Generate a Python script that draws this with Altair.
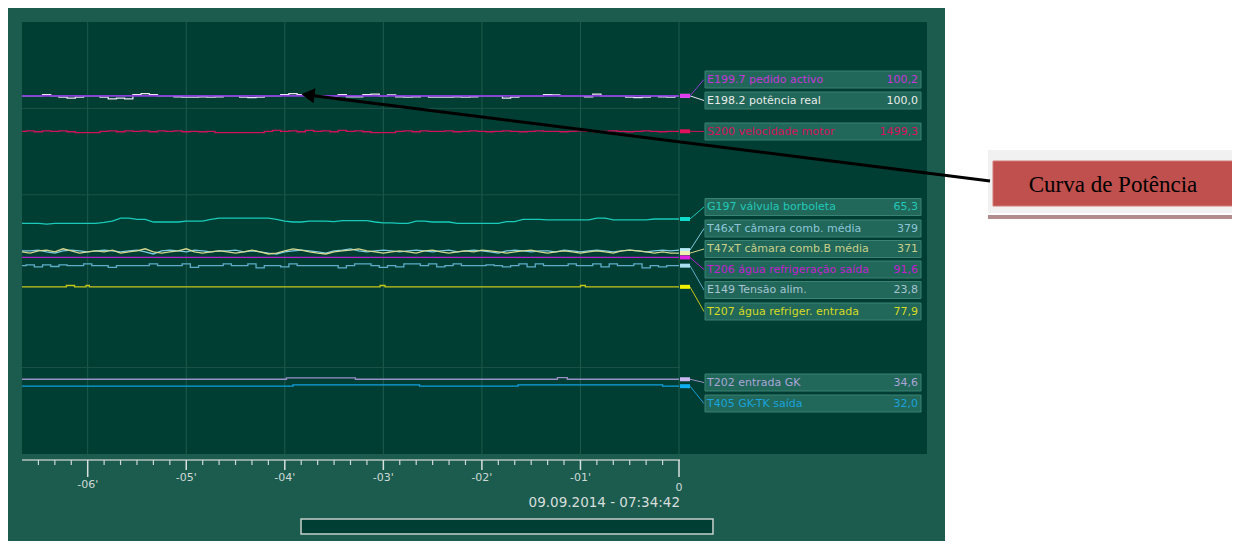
import altair as alt
import pandas as pd

# ---------------- data (time in seconds before 07:34:42, values in % of display height) -------------
T5 = list(range(-400, 1, 5))

E1982_V = [82.9, 82.9, 82.9, 83.2, 82.9, 82.6, 82.4, 82.6, 82.9, 82.9,
           82.6, 82.2, 82.4, 82.2, 83.2, 83.4, 83.2, 82.9, 82.9, 82.7,
           82.6, 82.6, 82.7, 82.6, 82.7, 82.9, 82.9, 82.6, 82.5, 82.6,
           82.9, 82.9, 83.2, 83.4, 83.2, 82.9, 82.9, 82.9, 82.9, 83.2,
           82.7, 82.7, 83.2, 83.3, 82.9, 83.1, 82.7, 82.6, 82.7, 82.9,
           82.6, 82.6, 82.6, 82.7, 82.6, 82.7, 82.9, 82.9, 82.9, 82.4,
           82.6, 82.9, 82.9, 82.9, 83.2, 83.1, 82.9, 82.9, 82.9, 82.7,
           83.3, 82.9, 82.9, 82.9, 82.6, 82.5, 82.6, 82.9, 82.7, 82.6,
           82.9]

S200_V = [74.7, 74.8, 74.6, 74.8, 74.7, 74.8, 74.6, 74.4, 74.4, 74.4,
          74.7, 74.8, 74.6, 74.8, 74.7, 74.8, 74.6, 74.8, 74.7, 74.8,
          74.6, 74.7, 74.6, 74.7, 74.4, 74.4, 74.4, 74.4, 74.4, 74.4,
          74.7, 74.9, 74.7, 74.8, 74.6, 74.9, 74.7, 74.8, 74.6, 74.9,
          74.7, 74.8, 74.6, 74.4, 74.4, 74.4, 74.7, 74.8, 74.6, 74.8,
          74.7, 74.7, 74.8, 74.6, 74.7, 74.8, 74.7, 74.6, 74.7, 74.8,
          74.7, 74.6, 74.7, 74.8, 74.7, 74.7, 74.6, 74.7, 74.8, 74.7,
          74.6, 74.7, 74.8, 74.7, 74.6, 74.7, 74.8, 74.7, 74.6, 74.7,
          74.7]

G197_V = [53.4, 53.4, 53.4, 53.2, 53.4, 53.4, 53.4, 53.4, 53.4, 53.4,
          53.6, 53.9, 54.6, 54.6, 54.3, 54.3, 53.7, 53.7, 53.7, 53.7,
          53.9, 53.9, 53.9, 54.3, 54.6, 54.6, 54.6, 54.6, 54.6, 54.6,
          54.6, 54.3, 53.9, 53.7, 53.7, 53.9, 53.9, 53.9, 53.8, 54.0,
          54.0, 54.0, 54.0, 53.7, 53.5, 53.5, 53.4, 53.4, 53.9, 53.9,
          53.7, 53.7, 53.7, 53.4, 53.4, 53.4, 53.4, 53.4, 53.4, 53.8,
          53.8, 54.3, 54.3, 54.3, 54.2, 54.2, 54.2, 54.2, 54.2, 54.2,
          54.6, 54.6, 54.2, 54.2, 54.2, 54.2, 54.2, 54.4, 54.4, 54.4,
          54.4]

T46_V = [47.0, 47.0, 47.2, 46.8, 46.5, 47.0, 47.2, 47.0, 46.8, 47.0,
         47.2, 47.0, 46.8, 47.0, 47.2, 46.8, 46.3, 47.0, 47.2, 47.0,
         46.8, 47.2, 47.0, 46.8, 47.0, 47.0, 47.2, 46.8, 47.0, 46.8,
         46.5, 46.3, 46.8, 47.0, 47.2, 47.0, 46.8, 46.5, 47.0, 47.2,
         47.5, 47.0, 46.8, 47.0, 47.2, 47.0, 46.8, 47.0, 47.2, 47.0,
         46.8, 47.0, 47.2, 46.8, 47.0, 47.2, 47.0, 46.8, 46.5, 47.0,
         47.2, 47.0, 46.8, 47.0, 47.0, 46.8, 47.2, 47.0, 46.8, 47.0,
         47.2, 47.0, 46.8, 47.0, 47.2, 47.0, 46.8, 47.0, 47.2, 47.0,
         47.2]

T47_V = [46.8, 46.5, 47.0, 47.2, 46.8, 47.5, 47.0, 46.5, 46.8, 47.0,
         46.8, 47.2, 46.5, 46.8, 47.0, 47.5, 46.8, 46.5, 46.8, 47.0,
         47.5, 46.8, 46.5, 46.8, 47.0, 46.8, 46.5, 46.8, 47.2, 46.8,
         46.3, 46.5, 47.0, 47.5, 47.2, 46.8, 46.5, 46.3, 46.8, 47.0,
         47.2, 47.5, 47.0, 46.8, 46.5, 46.8, 47.0, 46.8, 46.5, 47.0,
         47.2, 46.8, 46.5, 46.8, 47.0, 46.8, 47.2, 47.0, 46.8, 46.5,
         46.8, 47.0, 47.2, 46.8, 46.5, 46.8, 47.0, 46.8, 46.5, 46.8,
         47.0, 46.8, 46.5, 47.0, 47.2, 47.0, 46.8, 46.5, 46.8, 46.5,
         46.5]

E149_V = [43.6, 43.8, 43.3, 43.8, 43.4, 43.8, 43.6, 43.6, 44.0, 43.6,
          43.6, 43.2, 43.6, 43.6, 43.6, 43.6, 44.0, 43.6, 43.6, 43.6,
          44.0, 43.2, 43.6, 43.6, 43.6, 44.0, 43.6, 43.6, 44.0, 43.1,
          43.6, 43.6, 43.3, 44.0, 43.6, 43.6, 43.6, 43.6, 43.6, 43.1,
          43.6, 44.0, 44.0, 43.6, 43.2, 43.6, 43.3, 44.0, 44.0, 43.6,
          44.0, 43.3, 43.6, 44.0, 43.6, 43.6, 43.6, 43.8, 43.6, 43.3,
          43.6, 44.0, 43.3, 44.0, 43.6, 43.6, 43.6, 44.0, 43.6, 43.6,
          44.0, 43.3, 44.0, 43.6, 43.6, 44.0, 43.1, 43.6, 43.3, 43.6,
          43.6]

E1997_T = [-400, 0]
E1997_V = [82.9, 82.9]
T206_T = [-400, 0]
T206_V = [45.5, 45.5]
T207_T = [-400, -373, -368, -361, -359, -182, -179, -60, -57, 0]
T207_V = [38.7, 39.0, 38.7, 39.0, 38.7, 39.0, 38.7, 39.0, 38.7, 38.7]
T202_T = [-400, -239, -197, -74, -68, 0]
T202_V = [17.3, 17.6, 17.3, 17.7, 17.3, 17.3]
T405_T = [-400, -235, -158, -98, -10, 0]
T405_V = [15.7, 16.0, 15.7, 16.0, 15.7, 15.7]

LEG_NAMES = ["E199.7 pedido activo", "E198.2 potência real", "S200 velocidade motor",
             "G197 válvula borboleta", "T46xT câmara comb. média", "T47xT câmara comb.B média",
             "T206 água refrigeração saída", "E149 Tensão alim.", "T207 água refriger. entrada",
             "T202 entrada GK", "T405 GK-TK saída"]
LEG_VALUES = ["100,2", "100,0", "1499,3", "65,3", "379", "371", "91,6", "23,8", "77,9", "34,6", "32,0"]

GRID_T = [-360, -300, -240, -180, -120, -60, 0]
GRID_V = [20, 60, 80]
MINOR_T = [t for t in range(-390, 0, 10) if t % 60 != 0]
MAJOR_T = [-300, -240, -180, -120, -60]
MAJOR_LABELS = ["-05'", "-04'", "-03'", "-02'", "-01'"]
END_T = [-360, 0]
TIMESTAMP = "09.09.2014 - 07:34:42"
ANNOTATION = "Curva de Potência"

# ---------------- styles ----------------
LINE_COLORS = ["#8a3cd8", "#ece4f4", "#d0125a", "#18cbbb", "#7ccbe0", "#d4d88e",
               "#b81ed0", "#5eaecb", "#c6c81a", "#9a90c8", "#12a0de"]
MARK_COLORS = ["#e23cf0", "#ece4f4", "#e0105a", "#10dccc", "#b8ecf8", "#f0f0b0",
               "#e020e0", "#a8e0f0", "#f0f000", "#c8b8f0", "#10b0f0"]
TEXT_COLORS = ["#c437d8", "#e8ece8", "#d3125c", "#22c9b8", "#8cc6d8", "#c8cf8a",
               "#c21fcf", "#a6c4d0", "#d6da22", "#aaa6d8", "#1aa3dc"]
LEG_ROW_Y = [57.5, 78.5, 109.5, 185, 206.5, 227, 247.5, 268, 289.5, 360.5, 381.5]

W, H = 657, 432
XS = alt.Scale(domain=[-400, 0], nice=False, zero=False)
YS = alt.Scale(domain=[0, 100], nice=False, zero=False)
ONE = pd.DataFrame({"k": [0]})
FONT = "DejaVu Sans"


def rect(x, x2, y, y2, **kw):
    return alt.Chart(ONE).mark_rect(**kw).encode(
        x=alt.value(x), x2=alt.value(x2), y=alt.value(y), y2=alt.value(y2))


def line_layer(ts, vs, color, interp="linear", sw=1.3):
    df = pd.DataFrame({"t": ts, "v": vs})
    return alt.Chart(df).mark_line(color=color, strokeWidth=sw, interpolate=interp).encode(
        x=alt.X("t:Q", scale=XS, axis=None), y=alt.Y("v:Q", scale=YS, axis=None))


layers = []
# panel and plot background
layers.append(rect(-14, 923, -14, 519, color="#1b5c4f"))
layers.append(rect(0, 905, 0, H, color="#003d32"))

# grid
layers.append(alt.Chart(pd.DataFrame({"t": GRID_T})).mark_rule(color="#1f5b4d", strokeWidth=1).encode(
    x=alt.X("t:Q", scale=XS, axis=None), y=alt.value(0), y2=alt.value(H)))
layers.append(alt.Chart(pd.DataFrame({"v": GRID_V})).mark_rule(color="#1c5447", strokeWidth=1).encode(
    y=alt.Y("v:Q", scale=YS, axis=None), x=alt.value(0), x2=alt.value(W + 1)))

# series (legend order)
SERIES = [
    (E1997_T, E1997_V, "linear"),
    (T5, E1982_V, "step"),
    (T5, S200_V, "step"),
    (T5, G197_V, "linear"),
    (T5, T46_V, "linear"),
    (T5, T47_V, "linear"),
    (T206_T, T206_V, "linear"),
    (T5, E149_V, "step"),
    (T207_T, T207_V, "step-after"),
    (T202_T, T202_V, "step-after"),
    (T405_T, T405_V, "step-after"),
]
draw_order = [1, 2, 3, 6, 4, 5, 7, 8, 9, 10, 0]
for i in draw_order:
    ts, vs, interp = SERIES[i]
    sw = 1.6 if i == 0 else 1.3
    layers.append(line_layer(ts, vs, LINE_COLORS[i], interp, sw))

# end markers and connectors to the legend boxes
for i in draw_order:
    ts, vs, interp = SERIES[i]
    end_df = pd.DataFrame({"v": [vs[-1]]})
    layers.append(alt.Chart(end_df).mark_rule(color=LINE_COLORS[i], strokeWidth=1).encode(
        x=alt.value(668), x2=alt.value(682), y=alt.Y("v:Q", scale=YS, axis=None),
        y2=alt.value(LEG_ROW_Y[i])))
    layers.append(alt.Chart(end_df).mark_tick(orient="horizontal", thickness=4, size=10,
                                              color=MARK_COLORS[i], opacity=1).encode(
        x=alt.value(663), y=alt.Y("v:Q", scale=YS, axis=None)))

# legend boxes
leg = pd.DataFrame({"name": LEG_NAMES, "val": LEG_VALUES, "c": TEXT_COLORS, "cy": LEG_ROW_Y})
leg["top"] = leg["cy"] - 8.5
leg["bot"] = leg["cy"] + 8.5
layers.append(alt.Chart(leg).mark_rect(fill="#21675a", stroke="#3a8373", strokeWidth=1).encode(
    x=alt.value(683), x2=alt.value(899),
    y=alt.Y("top:Q", scale=None, axis=None), y2=alt.Y2("bot:Q")))
layers.append(alt.Chart(leg).mark_text(align="left", baseline="middle", font=FONT, fontSize=11).encode(
    x=alt.value(685), y=alt.Y("cy:Q", scale=None, axis=None), text="name:N",
    color=alt.Color("c:N", scale=None)))
layers.append(alt.Chart(leg).mark_text(align="right", baseline="middle", font=FONT, fontSize=11).encode(
    x=alt.value(896), y=alt.Y("cy:Q", scale=None, axis=None), text="val:N",
    color=alt.Color("c:N", scale=None)))

# x axis (hand-drawn ticks through the time scale)
AX = "#b4c2bc"
layers.append(alt.Chart(ONE).mark_rule(color=AX, strokeWidth=1.5).encode(
    x=alt.value(0), x2=alt.value(W + 1), y=alt.value(438)))
layers.append(alt.Chart(pd.DataFrame({"t": MINOR_T})).mark_rule(color="#d0d8d4", strokeWidth=1.2).encode(
    x=alt.X("t:Q", scale=XS, axis=None), y=alt.value(438), y2=alt.value(443)))
layers.append(alt.Chart(pd.DataFrame({"t": MAJOR_T})).mark_rule(color="#d8e0dc", strokeWidth=1.5).encode(
    x=alt.X("t:Q", scale=XS, axis=None), y=alt.value(438), y2=alt.value(448)))
layers.append(alt.Chart(pd.DataFrame({"t": END_T})).mark_rule(color="#d8e0dc", strokeWidth=1.5).encode(
    x=alt.X("t:Q", scale=XS, axis=None), y=alt.value(438), y2=alt.value(455)))
layers.append(alt.Chart(pd.DataFrame({"t": MAJOR_T, "lab": MAJOR_LABELS})).mark_text(
    font=FONT, fontSize=11, color="#cfd9d5", baseline="middle").encode(
    x=alt.X("t:Q", scale=XS, axis=None), y=alt.value(456), text="lab:N"))
layers.append(alt.Chart(pd.DataFrame({"t": [END_T[0]], "lab": ["-06'"]})).mark_text(
    font=FONT, fontSize=11, color="#cfd9d5", baseline="middle").encode(
    x=alt.X("t:Q", scale=XS, axis=None), y=alt.value(463), text="lab:N"))
layers.append(alt.Chart(pd.DataFrame({"t": [END_T[1]], "lab": ["0"]})).mark_text(
    font=FONT, fontSize=11, color="#cfd9d5", baseline="middle").encode(
    x=alt.X("t:Q", scale=XS, axis=None), y=alt.value(466), text="lab:N"))
layers.append(alt.Chart(ONE).mark_text(text=TIMESTAMP, font=FONT, fontSize=13.5, color="#d8dedb",
                                       align="right", baseline="middle").encode(
    x=alt.value(658), y=alt.value(481)))

# scroll bar: dark trough drawn as a thick rule, then a light outline
layers.append(alt.Chart(ONE).mark_rule(color="#003d33", strokeWidth=14, strokeCap="butt").encode(
    x=alt.value(280), x2=alt.value(690), y=alt.value(504.5)))
layers.append(rect(279, 691, 497, 512, filled=False, stroke="#c4ccc8", strokeWidth=1.5))

# annotation
layers.append(rect(966, 1210, 128, 191, color="#f1f1f1"))
layers.append(rect(966, 1210, 193, 197, color="#b38c8e"))
layers.append(rect(971, 1213, 139, 184, fill="#c0504d", stroke="#d27a76", strokeWidth=1))
layers.append(alt.Chart(ONE).mark_text(text=ANNOTATION, font="Liberation Serif", fontSize=23,
                                       color="#000000", align="center", baseline="middle").encode(
    x=alt.value(1091), y=alt.value(163)))
layers.append(alt.Chart(ONE).mark_rule(color="#000000", strokeWidth=3).encode(
    x=alt.value(290), x2=alt.value(968), y=alt.value(73.6), y2=alt.value(159)))
layers.append(alt.Chart(ONE).mark_point(shape="triangle-left", size=230, filled=True, color="#000000",
                                        opacity=1, angle=7.2).encode(
    x=alt.value(286), y=alt.value(73)))

chart = alt.layer(*layers).resolve_scale(x="independent", y="independent", color="independent").properties(
    width=W, height=H,
    padding={"left": 14, "top": 14, "right": 553, "bottom": 87},
    autosize=alt.AutoSizeParams(type="none"),
    background="white",
).configure_view(stroke=None)

chart.save("out.html", embed_options={"renderer": "svg", "actions": False})
